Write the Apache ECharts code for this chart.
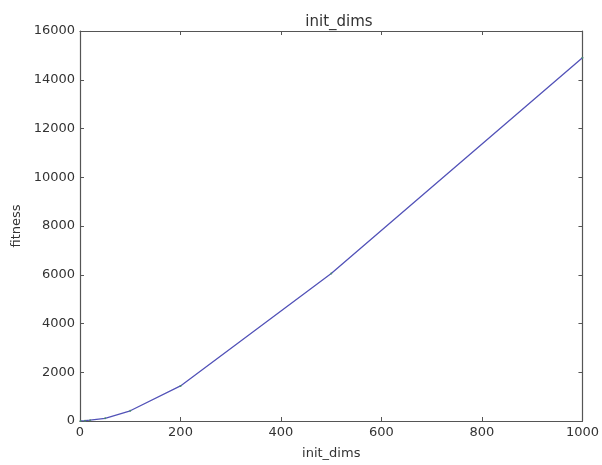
<!DOCTYPE html>
<html><head><meta charset="utf-8">
<script src="https://cdn.jsdelivr.net/npm/echarts@6/dist/echarts.min.js"></script>
<style>html,body{margin:0;padding:0;background:#fff}#c{width:602px;height:465px}</style>
</head><body><div id="c"></div>
<script>
const initDims = [1, 10, 20, 50, 100, 200, 500, 1000];
const fitness = [2, 15, 35, 110, 420, 1440, 6050, 14900];
const xTicks = [0, 200, 400, 600, 800, 1000];
const yTicks = [0, 2000, 4000, 6000, 8000, 10000, 12000, 14000, 16000];

const chart = echarts.init(document.getElementById('c'));
const font = 'DejaVu Sans';
const axisLineStyle = {color: '#555', width: 1.2};
const plain = v => String(v);
const baseX = {
  type: 'value', min: xTicks[0], max: xTicks[xTicks.length-1], interval: 200,
  axisLine: {show: true, onZero: false, lineStyle: axisLineStyle},
  axisTick: {show: true, inside: true, length: 4, lineStyle: {color: '#555'}},
  splitLine: {show: false}
};
const baseY = {
  type: 'value', min: yTicks[0], max: yTicks[yTicks.length-1], interval: 2000,
  axisLine: {show: true, onZero: false, lineStyle: axisLineStyle},
  axisTick: {show: true, inside: true, length: 4, lineStyle: {color: '#555'}},
  splitLine: {show: false}
};
chart.setOption({
  animation: false,
  backgroundColor: '#fff',
  title: {text: 'init_dims', left: 334, top: 10, textAlign: 'center',
    textStyle: {fontFamily: font, fontSize: 15, fontWeight: 'normal', color: '#333'}},
  grid: {left: 80, right: 17, top: 31, bottom: 42},
  xAxis: [
    Object.assign({}, baseX, {position: 'bottom', name: 'init_dims', nameLocation: 'middle', nameGap: 26,
      nameTextStyle: {fontFamily: font, fontSize: 13, color: '#333'},
      axisLabel: {fontFamily: font, fontSize: 13, color: '#333', margin: 5, formatter: plain}}),
    Object.assign({}, baseX, {position: 'top', axisLabel: {show: false}})
  ],
  yAxis: [
    Object.assign({}, baseY, {position: 'left', name: 'fitness', nameLocation: 'middle', nameGap: 56,
      nameTextStyle: {fontFamily: font, fontSize: 13, color: '#333'},
      axisLabel: {fontFamily: font, fontSize: 13, color: '#333', margin: 5, formatter: plain}}),
    Object.assign({}, baseY, {position: 'right', axisLabel: {show: false}})
  ],
  series: [{
    type: 'line', xAxisIndex: 0, yAxisIndex: 0,
    data: initDims.map((d, i) => [d, fitness[i]]),
    symbol: 'circle', symbolSize: 2, showSymbol: true,
    itemStyle: {color: '#4a8a70'},
    lineStyle: {color: '#5252b8', width: 1.3}
  }]
});
</script></body></html>
